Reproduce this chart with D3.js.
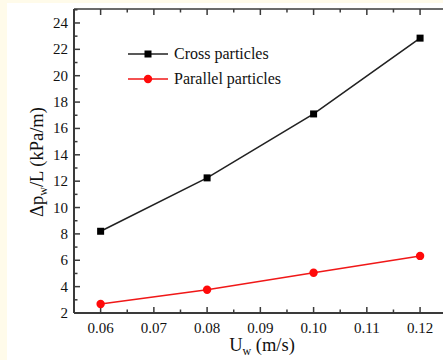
<!DOCTYPE html>
<html lang="en">
<head>
    <meta charset="UTF-8">
    <title>pressure drop</title>
    <style>
        html, body {
            margin: 0;
            padding: 0;
            background: #fffbea;
        }

        svg {
            display: block;
        }

        svg text {
            fill: #111;
        }

        .tick-label {
            font-size: 15px;
        }

        .axis-title {
            font-size: 18.5px;
        }

        .legend text {
            font-size: 16px;
        }
    </style>
</head>
<body>
<svg id="chart"></svg>

<script src="https://cdnjs.cloudflare.com/ajax/libs/d3/7.8.5/d3.min.js"></script>
<script>
    // values
    const velocities = [0.06, 0.08, 0.10, 0.12];
    const crossValues = [8.2, 12.25, 17.1, 22.85];
    const parallelValues = [2.68, 3.76, 5.05, 6.33];
    const seriesNames = ["Cross particles", "Parallel particles"];
    const xTickValues = [0.06, 0.07, 0.08, 0.09, 0.10, 0.11, 0.12];
    const yTickValues = [2, 4, 6, 8, 10, 12, 14, 16, 18, 20, 22, 24];

    const width = 443, height = 360;
    const margin = {left: 74, top: 9, bottom: 47};
    const serif = "Liberation Serif";

    const svg = d3.select("#chart").attr("width", width).attr("height", height);

    // white picture area with a cream frame on the left and top
    svg.append("rect")
        .attr("x", 7).attr("y", 3)
        .attr("width", width - 7).attr("height", height - 3)
        .attr("fill", "#ffffff");

    const x = d3.scaleLinear().domain([0.055, 0.125]).range([margin.left, 446.7]);
    const y = d3.scaleLinear().domain([2, 25.06]).range([height - margin.bottom, margin.top]);

    const axisColor = "#3a3a3a";
    const plotBottom = y(2), plotTop = y(25.06);

    // axis lines
    svg.append("line")
        .attr("x1", margin.left).attr("x2", width)
        .attr("y1", plotBottom).attr("y2", plotBottom)
        .attr("stroke", axisColor).attr("stroke-width", 2);
    svg.append("line")
        .attr("x1", margin.left).attr("x2", width)
        .attr("y1", plotTop).attr("y2", plotTop)
        .attr("stroke", axisColor).attr("stroke-width", 1.5);
    svg.append("line")
        .attr("x1", margin.left).attr("x2", margin.left)
        .attr("y1", plotTop).attr("y2", plotBottom)
        .attr("stroke", axisColor).attr("stroke-width", 2);

    // x ticks (inward, bottom and top), minor ticks between
    const xMinor = xTickValues.slice(0, -1).map(v => v + 0.005).concat([0.055, 0.125]);
    const tickG = svg.append("g").attr("stroke", axisColor).attr("stroke-width", 1.5);

    xTickValues.forEach(v => {
        tickG.append("line").attr("x1", x(v)).attr("x2", x(v)).attr("y1", plotBottom).attr("y2", plotBottom - 6);
        tickG.append("line").attr("x1", x(v)).attr("x2", x(v)).attr("y1", plotTop).attr("y2", plotTop + 6);
    });
    xMinor.forEach(v => {
        tickG.append("line").attr("x1", x(v)).attr("x2", x(v)).attr("y1", plotBottom).attr("y2", plotBottom - 3.5);
        tickG.append("line").attr("x1", x(v)).attr("x2", x(v)).attr("y1", plotTop).attr("y2", plotTop + 3.5);
    });

    yTickValues.forEach(v => {
        tickG.append("line").attr("x1", margin.left).attr("x2", margin.left + 6).attr("y1", y(v)).attr("y2", y(v));
        if (v < 25) {
            tickG.append("line").attr("x1", margin.left).attr("x2", margin.left + 3.5)
                .attr("y1", y(v + 1)).attr("y2", y(v + 1));
        }
    });

    // tick labels
    svg.append("g").selectAll("text")
        .data(xTickValues)
        .join("text")
        .attr("class", "tick-label")
        .attr("font-family", serif)
        .attr("x", d => x(d))
        .attr("y", plotBottom + 20)
        .attr("text-anchor", "middle")
        .text(d => d3.format(".2f")(d));

    svg.append("g").selectAll("text")
        .data(yTickValues)
        .join("text")
        .attr("class", "tick-label")
        .attr("font-family", serif)
        .attr("x", margin.left - 6)
        .attr("y", d => y(d) + 5)
        .attr("text-anchor", "end")
        .text(d => d);

    // axis titles
    const xTitle = svg.append("text")
        .attr("class", "axis-title")
        .attr("font-family", serif)
        .attr("x", 262)
        .attr("y", 351)
        .attr("text-anchor", "middle");
    xTitle.append("tspan").text("U");
    xTitle.append("tspan").attr("font-size", "12px").attr("dy", 4).text("w");
    xTitle.append("tspan").attr("dy", -4).text(" (m/s)");

    const yTitle = svg.append("text")
        .attr("class", "axis-title")
        .attr("font-family", serif)
        .attr("transform", "translate(43,162) rotate(-90)")
        .attr("text-anchor", "middle");
    yTitle.append("tspan").text("Δp");
    yTitle.append("tspan").attr("font-size", "12px").attr("dy", 4).text("w");
    yTitle.append("tspan").attr("dy", -4).text("/L (kPa/m)");

    // series
    const line = d3.line().x((d, i) => x(velocities[i])).y(d => y(d));

    svg.append("path")
        .datum(crossValues)
        .attr("fill", "none")
        .attr("stroke", "#222")
        .attr("stroke-width", 1.6)
        .attr("d", line);

    svg.append("path")
        .datum(parallelValues)
        .attr("fill", "none")
        .attr("stroke", "#f01818")
        .attr("stroke-width", 1.6)
        .attr("d", line);

    svg.append("g").selectAll("rect")
        .data(crossValues)
        .join("rect")
        .attr("x", (d, i) => x(velocities[i]) - 3.5)
        .attr("y", d => y(d) - 3.5)
        .attr("width", 7)
        .attr("height", 7)
        .attr("fill", "#000");

    svg.append("g").selectAll("circle")
        .data(parallelValues)
        .join("circle")
        .attr("cx", (d, i) => x(velocities[i]))
        .attr("cy", d => y(d))
        .attr("r", 4.2)
        .attr("fill", "#ff0a0a");

    // legend
    const legend = svg.append("g").attr("class", "legend");
    const legendRows = [
        {name: seriesNames[0], color: "#222", marker: "square", yPos: 54},
        {name: seriesNames[1], color: "#f01818", marker: "circle", yPos: 79}
    ];
    legendRows.forEach(r => {
        legend.append("line")
            .attr("x1", 128).attr("x2", 168)
            .attr("y1", r.yPos).attr("y2", r.yPos)
            .attr("stroke", r.color).attr("stroke-width", 1.6);
        if (r.marker === "square") {
            legend.append("rect").attr("x", 144.5).attr("y", r.yPos - 3.5)
                .attr("width", 7).attr("height", 7).attr("fill", "#000");
        } else {
            legend.append("circle").attr("cx", 148).attr("cy", r.yPos)
                .attr("r", 4.2).attr("fill", "#ff0a0a");
        }
        legend.append("text")
            .attr("font-family", serif)
            .attr("x", 174)
            .attr("y", r.yPos + 5)
            .text(r.name);
    });
</script>
</body>
</html>
